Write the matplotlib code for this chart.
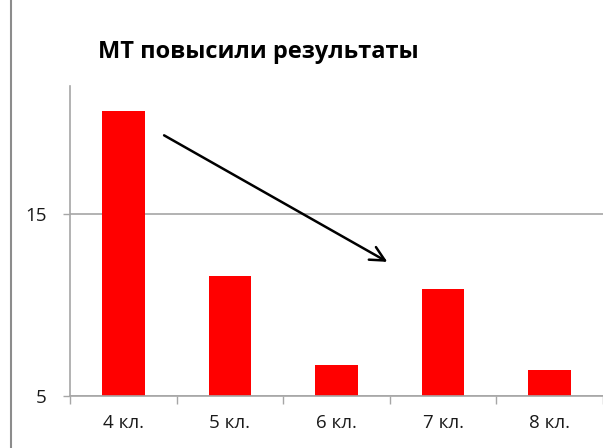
import matplotlib.pyplot as plt
from matplotlib.lines import Line2D

plt.rcParams['font.family'] = ['Open Sans', 'DejaVu Sans']

classes = ['4 кл.', '5 кл.', '6 кл.', '7 кл.', '8 кл.']
values = [20.65, 11.58, 6.72, 10.85, 6.43]
y_ticks = [5, 15]

fig = plt.figure(figsize=(6.03, 4.48), dpi=100)
ax = fig.add_axes([70 / 603, 52 / 448, 533 / 603, 310 / 448])

x = list(range(len(classes)))
ax.bar(x, values, width=0.4, color='#ff0000', bottom=0)
ax.set_xlim(-0.5, len(classes) - 0.5)
ax.set_ylim(5, 22)

ax.set_yticks(y_ticks)
ax.yaxis.grid(True, color='#a6a6a6', linewidth=1.2)
ax.set_axisbelow(True)

ax.set_xticks([i - 0.5 for i in range(len(classes) + 1)])
ax.set_xticklabels([])
ax.set_xticks(x, minor=True)
ax.set_xticklabels(classes, minor=True)
ax.tick_params(axis='x', which='major', length=6, color='#a6a6a6', width=1)
ax.tick_params(axis='x', which='minor', length=0, pad=13, labelsize=13.5, labelcolor='#1a1a1a')
ax.tick_params(axis='y', length=5, color='#a6a6a6', width=1, pad=12, labelsize=13.5, labelcolor='#1a1a1a')

for s in ['top', 'right']:
    ax.spines[s].set_visible(False)
for s in ['left', 'bottom']:
    ax.spines[s].set_color('#a6a6a6')
    ax.spines[s].set_linewidth(1.2)

ax.annotate('', xy=(2.5, 12.28), xytext=(0.36, 19.37),
            arrowprops=dict(arrowstyle='->', color='black', lw=1.8, mutation_scale=26))

fig.text(258 / 603, 1 - 52 / 448, 'МТ повысили результаты', ha='center', va='center',
         fontsize=17, fontweight='bold', color='black')

fig.add_artist(Line2D([11 / 603, 11 / 603], [0, 1], color='#8c8c8c', linewidth=1.5))

fig.savefig('out.png', dpi=100)
